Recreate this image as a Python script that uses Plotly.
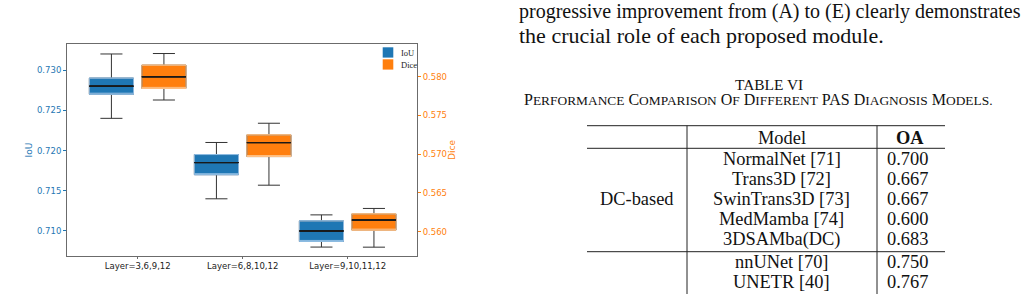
import plotly.graph_objects as go

# ---------------- data ----------------
categories = ["Layer=3,6,9,12", "Layer=6,8,10,12", "Layer=9,10,11,12"]

iou_lower = [0.724, 0.714, 0.708]
iou_q1 = [0.727, 0.717, 0.7087]
iou_median = [0.728, 0.7185, 0.710]
iou_q3 = [0.729, 0.7195, 0.71125]
iou_upper = [0.732, 0.721, 0.712]

dice_lower = [0.577, 0.566, 0.558]
dice_q1 = [0.5785, 0.5697, 0.5602]
dice_median = [0.580, 0.5715, 0.5615]
dice_q3 = [0.5815, 0.5725, 0.5623]
dice_upper = [0.583, 0.574, 0.563]

iou_ticks = [0.710, 0.715, 0.720, 0.725, 0.730]
dice_ticks = [0.560, 0.565, 0.570, 0.575, 0.580]
series_names = ["IoU", "Dice"]

paragraph_lines = [
    "progressive improvement from (A) to (E) clearly demonstrates",
    "the crucial role of each proposed module.",
]
table_title = "TABLE VI"
table_caption = "PERFORMANCE COMPARISON OF DIFFERENT PAS DIAGNOSIS MODELS."
table_header = ["Model", "OA"]
table_group = "DC-based"
table_models = ["NormalNet [71]", "Trans3D [72]", "SwinTrans3D [73]", "MedMamba [74]",
                "3DSAMba(DC)", "nnUNet [70]", "UNETR [40]"]
table_oa = ["0.700", "0.667", "0.667", "0.600", "0.683", "0.750", "0.767"]

# ---------------- geometry helpers ----------------
W, H = 1026, 294
L, R, T, B = 67, 417, 44, 256


def px(x):
    return (x - L) / (R - L)


def py(y):
    return (B - y) / (B - T)


BLUE = "#1f77b4"
ORANGE = "#ff7f0e"
DARK = "#333333"
SERIF = "Liberation Serif, Times New Roman, serif"
SANS = "DejaVu Sans, sans-serif"

fig = go.Figure()

idx = list(range(len(categories)))
series = [
    (BLUE, "#8dbbe2", "y", -0.25, iou_lower, iou_q1, iou_median, iou_q3, iou_upper),
    (ORANGE, "#ffc084", "y2", 0.25, dice_lower, dice_q1, dice_median, dice_q3, dice_upper),
]
for name, (col, edge, yax, off, lo, q1, med, q3, hi) in zip(series_names, series):
    xs = [i + off for i in idx]
    fig.add_trace(go.Box(
        x=xs, q1=q1, median=med, q3=q3, lowerfence=lo, upperfence=hi,
        yaxis=yax, width=0.42, whiskerwidth=0.5, fillcolor=col, name=name,
        line=dict(color=DARK, width=1), showlegend=False, hoverinfo="skip",
    ))
    # lighter box edge drawn over the box outline
    fig.add_trace(go.Box(
        x=xs, q1=q1, median=q1, q3=q3, lowerfence=q1, upperfence=q3,
        yaxis=yax, width=0.42, whiskerwidth=1.0, fillcolor="rgba(0,0,0,0)",
        line=dict(color=edge, width=1), showlegend=False, hoverinfo="skip",
    ))
    # median on top
    fig.add_trace(go.Box(
        x=xs, q1=med, median=med, q3=med, lowerfence=med, upperfence=med,
        yaxis=yax, width=0.42, whiskerwidth=1.0, fillcolor="rgba(0,0,0,0)",
        line=dict(color="#1a1a1a", width=1), showlegend=False, hoverinfo="skip",
    ))

fig.update_layout(
    width=W, height=H,
    margin=dict(l=L, r=W - R, t=T, b=H - B, pad=0),
    paper_bgcolor="white", plot_bgcolor="white",
    showlegend=False,
    xaxis=dict(range=[-0.673, 2.66], tickvals=idx, ticktext=categories,
               showgrid=False, zeroline=False, showline=True, mirror=True,
               linecolor="#6b6b6b", linewidth=1, ticks="outside", ticklen=2,
               tickcolor="#6b6b6b", tickfont=dict(family=SANS, size=8.5, color="#222")),
    yaxis=dict(range=[0.70689, 0.73324], tickvals=iou_ticks,
               tickformat=".3f", showgrid=False, zeroline=False,
               showline=True, linecolor="#6b6b6b", linewidth=1,
               ticks="outside", ticklen=3, tickcolor=BLUE,
               tickfont=dict(family=SANS, size=8.5, color=BLUE),
               title=dict(text="IoU", font=dict(family=SANS, size=9, color=BLUE), standoff=2)),
    yaxis2=dict(range=[0.55686, 0.58423], tickvals=dice_ticks, tickformat=".3f",
                overlaying="y", side="right", showgrid=False, zeroline=False,
                showline=True, linecolor="#6b6b6b", linewidth=1,
                ticks="outside", ticklen=3, tickcolor=ORANGE,
                tickfont=dict(family=SANS, size=8.5, color=ORANGE),
                title=dict(text="Dice", font=dict(family=SANS, size=9, color=ORANGE), standoff=2)),
)

annotations = []
shapes = []


def txt(x, y, s, size, anchor="center", family=SERIF, color="#111", yanchor="middle"):
    annotations.append(dict(x=px(x), y=py(y), xref="paper", yref="paper", text=s,
                            showarrow=False, xanchor=anchor, yanchor=yanchor,
                            font=dict(family=family, size=size, color=color)))


# legend (inside plot, top right)
for k, (name, col) in enumerate(zip(series_names, [BLUE, ORANGE])):
    y0 = 47.3 + 12 * k
    shapes.append(dict(type="rect", xref="paper", yref="paper",
                       x0=px(382.7), x1=px(393.3), y0=py(y0), y1=py(y0 + 10.3),
                       fillcolor=col, line=dict(width=0)))
    txt(399.3, y0 + 5.3, name, 8.5, anchor="left", color="#222")

# paragraph
txt(517, 11.5, paragraph_lines[0], 20, anchor="left")
txt(517, 35.5, paragraph_lines[1], 22, anchor="left")

# table title & small-caps caption
txt(769, 84, table_title, 15.4)


def small_caps(s, small=13.4):
    out = []
    for word in s.split(" "):
        if word in ("PAS",):
            out.append(word)
        else:
            out.append(word[0] + "<span style='font-size:%spx'>%s</span>" % (small, word[1:]))
    return " ".join(out)


txt(758.5, 99.5, small_caps(table_caption), 16)


def hline(y, x0, x1):
    shapes.append(dict(type="line", xref="paper", yref="paper", x0=px(x0), x1=px(x1),
                       y0=py(y), y1=py(y), line=dict(color="#222", width=1)))


def vline(x, y0, y1):
    shapes.append(dict(type="line", xref="paper", yref="paper", x0=px(x), x1=px(x),
                       y0=py(y0), y1=py(y1), line=dict(color="#222", width=1)))


hline(125.7, 587, 945)
hline(148.3, 587, 945)
hline(251.7, 587, 945)
vline(687, 125.7, 300)
vline(877, 125.7, 300)

FS = 18.4
txt(782, 137.5, table_header[0], FS)
txt(910, 137.5, "<b>%s</b>" % table_header[1], FS)
txt(637, 199.5, table_group, FS)
row_y = [159, 179, 199, 219, 239, 261.5, 281.5]
for m, v, yy in zip(table_models, table_oa, row_y):
    txt(781.5, yy, m, FS)
    txt(907.5, yy, v, FS)

fig.update_layout(annotations=annotations, shapes=shapes)

fig.write_html("out.html")
